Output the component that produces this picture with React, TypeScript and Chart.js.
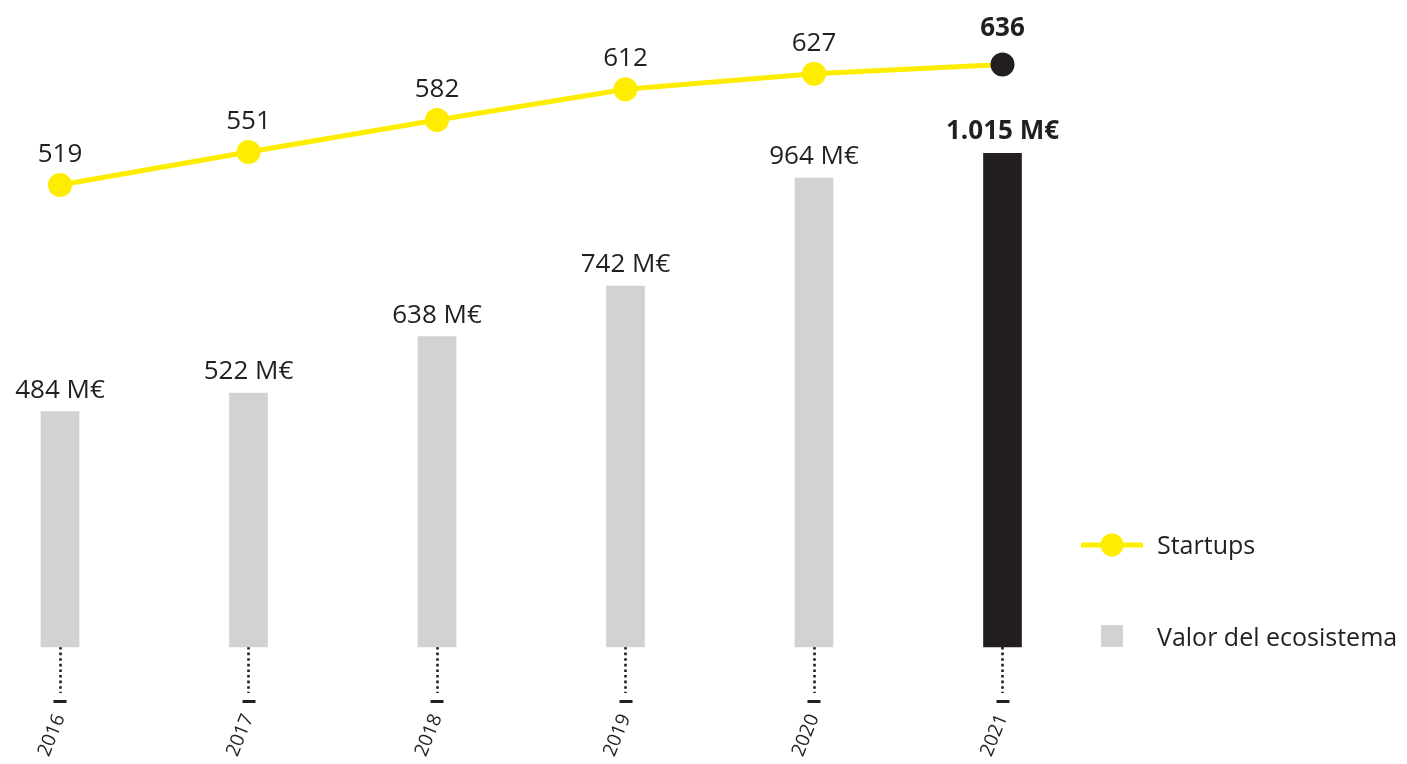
import React, { useEffect, useRef } from 'react';
import { Chart, registerables } from 'chart.js';

Chart.register(...registerables);

const years = ['2016', '2017', '2018', '2019', '2020', '2021'];
const ecosystemValue = [484, 522, 638, 742, 964, 1015];
const startups = [519, 551, 582, 612, 627, 636];
const legendLabels = ['Startups', 'Valor del ecosistema'];
const valueUnit = 'M€';

const YELLOW = '#ffed00';
const GREY = '#d1d2d4';
const DARK = '#231f20';
const FONT = '"Open Sans", Lato, "DejaVu Sans", sans-serif';
const lastIndex = years.length - 1;

const fmt = (v: number) => String(v).replace(/\B(?=(\d{3})+(?!\d))/g, '.');

const overlayPlugin = {
  id: 'overlay',
  afterDraw(chart: any) {
    const ctx = chart.ctx as CanvasRenderingContext2D;
    const xs = chart.scales.x;
    ctx.save();
    // small dashes at tick ends
    ctx.fillStyle = DARK;
    years.forEach((_, i) => {
      const x = xs.getPixelForTick(i);
      ctx.fillRect(Math.round(x) - 6.5, xs.top + 53, 13, 3);
    });

    ctx.textAlign = 'center';
    ctx.textBaseline = 'alphabetic';
    ctx.fillStyle = DARK;
    // bar labels
    const barMeta = chart.getDatasetMeta(0);
    barMeta.data.forEach((el: any, i: number) => {
      const bold = i === lastIndex;
      ctx.font = `${bold ? 'bold' : 'normal'} 26px ${FONT}`;
      ctx.fillText(`${fmt(ecosystemValue[i])} ${valueUnit}`, el.x, el.y - 14);
    });
    // point labels
    const lineMeta = chart.getDatasetMeta(1);
    lineMeta.data.forEach((el: any, i: number) => {
      const bold = i === lastIndex;
      ctx.font = `${bold ? 'bold' : 'normal'} 26px ${FONT}`;
      ctx.fillText(fmt(startups[i]), el.x, el.y - (bold ? 28 : 23));
    });

    // legend
    ctx.strokeStyle = YELLOW;
    ctx.lineWidth = 5;
    ctx.beginPath();
    ctx.moveTo(1081, 545);
    ctx.lineTo(1143, 545);
    ctx.stroke();
    ctx.fillStyle = YELLOW;
    ctx.beginPath();
    ctx.arc(1112, 545, 11.5, 0, Math.PI * 2);
    ctx.fill();
    ctx.fillStyle = GREY;
    ctx.fillRect(1101, 625, 22, 22);
    ctx.fillStyle = DARK;
    ctx.textAlign = 'left';
    ctx.font = `normal 25px ${FONT}`;
    ctx.fillText(legendLabels[0], 1157, 554);
    ctx.fillText(legendLabels[1], 1157, 646);
    ctx.restore();
  },
};

export default function App() {
  const ref = useRef<HTMLCanvasElement | null>(null);
  useEffect(() => {
    if (!ref.current) return;
    const chart = new Chart(ref.current, {
      type: 'bar',
      data: {
        labels: years,
        datasets: [
          {
            type: 'bar',
            label: legendLabels[1],
            data: ecosystemValue,
            backgroundColor: years.map((_, i) => (i === lastIndex ? DARK : GREY)),
            barThickness: 38,
            yAxisID: 'y',
            clip: false as any,
            order: 2,
          },
          {
            type: 'line',
            label: legendLabels[0],
            data: startups,
            borderColor: YELLOW,
            borderWidth: 5,
            pointRadius: 12,
            pointHoverRadius: 12,
            pointBorderWidth: 0,
            pointBackgroundColor: years.map((_, i) => (i === lastIndex ? DARK : YELLOW)),
            tension: 0,
            yAxisID: 'y1',
            clip: false as any,
            order: 1,
          } as any,
        ],
      },
      options: {
        responsive: false,
        animation: false,
        layout: { autoPadding: false, padding: { left: 60, right: 404.5, top: 0, bottom: 0 } },
        plugins: { legend: { display: false }, tooltip: { enabled: false } },
        scales: {
          x: {
            type: 'category',
            offset: false,
            grid: {
              offset: false,
              drawOnChartArea: false,
              drawTicks: true,
              tickLength: 46,
              tickBorderDash: [2.6, 3],
              tickColor: DARK,
              tickWidth: 2.6,
            } as any,
            border: { display: false },
            ticks: {
              minRotation: 68,
              maxRotation: 68,
              padding: 18,
              color: DARK,
              font: { family: FONT, size: 19 },
            },
            afterFit: (s: any) => {
              s.height = 117;
            },
          } as any,
          y: { display: false, min: 0, max: 1330 },
          y1: { display: false, min: 70.4, max: 698.6 },
        },
      },
      plugins: [overlayPlugin],
    });
    return () => chart.destroy();
  }, []);

  return (
    <div style={{ position: 'absolute', left: 0, top: 0, width: 1407, height: 764, background: '#fff' }}>
      <canvas ref={ref} width={1407} height={764} />
    </div>
  );
}
